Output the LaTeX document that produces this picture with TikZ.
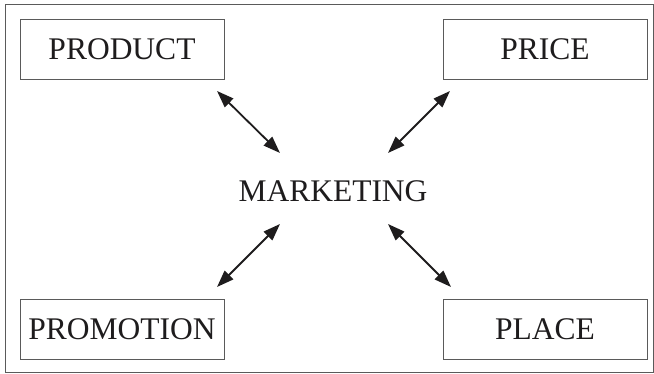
\documentclass[tikz,border=0pt]{standalone}
\usepackage{fontspec}
\setmainfont{Liberation Serif}
\usepackage{tikz}
\usetikzlibrary{calc}
\usetikzlibrary{arrows.meta}
\tikzset{>={Triangle[length=17pt,width=12pt]}}
\definecolor{framegray}{RGB}{90,90,90}
\definecolor{inkblack}{RGB}{30,28,29}

\begin{document}
\begin{tikzpicture}[x=1pt,y=1pt,
  mixbox/.style={draw=framegray,line width=0.9pt,minimum width=204pt,minimum height=60pt,inner sep=0pt,text=inkblack,font=\fontsize{31.5}{36}\selectfont},
  link/.style={<->,line width=1.8pt,draw=inkblack,fill=inkblack}]
\useasboundingbox (0,0) rectangle (654,374);
\draw[framegray,line width=1pt] (5,1.5) rectangle (653,369.5); % frame
\node[mixbox] (product) at (122,325) {PRODUCT};
\node[mixbox] (price) at (545,325) {PRICE};
\node[mixbox] (promotion) at (122,45) {PROMOTION};
\node[mixbox] (place) at (545,45) {PLACE};
\node[text=inkblack,font=\fontsize{31.5}{36}\selectfont] (marketing) at (333,183) {MARKETING};
% arrow ends
\coordinate (prodend) at (217,283);
\coordinate (prodmkt) at (280,221);
\coordinate (priceend) at (450,283);
\coordinate (pricemkt) at (388,221);
\coordinate (promoend) at (217,87);
\coordinate (promomkt) at (280,150);
\coordinate (placeend) at (451,87);
\coordinate (placemkt) at (388,150);
\draw[link] (prodend) -- (prodmkt);
\draw[link] (priceend) -- (pricemkt);
\draw[link] (promoend) -- (promomkt);
\draw[link] (placeend) -- (placemkt);
\end{tikzpicture}
\end{document}
